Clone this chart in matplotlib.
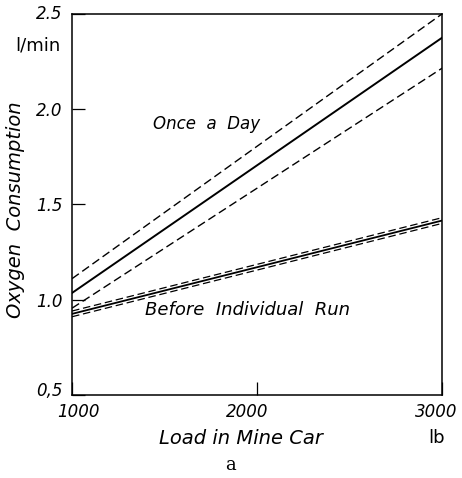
import numpy as np
import matplotlib
matplotlib.use("Agg")
import matplotlib.pyplot as plt
from matplotlib.transforms import ScaledTranslation

plt.rcParams['font.family'] = ['DejaVu Sans']

# load in mine car (lb)
load = [1000, 3000]

# once a day: mean line and the two dashed bounds
day_mid = [1.035, 2.375]
day_hi = [1.11, 2.5]
day_lo = [0.955, 2.215]

# before individual run
run_mid = [0.925, 1.415]
run_hi = [0.94, 1.43]
run_lo = [0.91, 1.40]

xticks = [1000, 2000, 3000]
yticks = [0.5, 1.0, 1.5, 2.0, 2.5]
ytick_labels = ['0,5', '1.0', '1.5', '2.0', '2.5']

fig = plt.figure(figsize=(4.62, 4.78), dpi=100)
ax = fig.add_axes([0.156, 0.174, 0.801, 0.797])

ax.plot(load, day_mid, color='black', lw=1.4)
ax.plot(load, day_hi, color='black', lw=1.0, ls=(0, (6, 3)))
ax.plot(load, day_lo, color='black', lw=1.0, ls=(0, (6, 3)))

ax.plot(load, run_mid, color='black', lw=1.3)
ax.plot(load, run_hi, color='black', lw=0.9, ls=(0, (6, 3)))
ax.plot(load, run_lo, color='black', lw=0.9, ls=(0, (6, 3)))

ax.set_xlim(1000, 3000)
ax.set_ylim(0.5, 2.5)

ax.set_xticks(xticks)
ax.set_xticklabels([str(v) for v in xticks], fontsize=12, style='italic')
ax.set_yticks(yticks)
ax.set_yticklabels(ytick_labels, fontsize=12, style='italic')
ax.tick_params(direction='in', length=9.5, width=0.9)
ax.tick_params(axis='x', pad=6)
ax.tick_params(axis='y', pad=7)

# nudge the end labels like the original
xl = ax.get_xticklabels()
xl[0].set_transform(xl[0].get_transform() + ScaledTranslation(6 / 100, 0, fig.dpi_scale_trans))
xl[1].set_transform(xl[1].get_transform() + ScaledTranslation(-10 / 100, 0, fig.dpi_scale_trans))
xl[2].set_transform(xl[2].get_transform() + ScaledTranslation(-6 / 100, 0, fig.dpi_scale_trans))
yl = ax.get_yticklabels()
yl[0].set_transform(yl[0].get_transform() + ScaledTranslation(0, 6 / 100, fig.dpi_scale_trans))
yl[4].set_transform(yl[4].get_transform() + ScaledTranslation(0, 2 / 100, fig.dpi_scale_trans))

for s in ax.spines.values():
    s.set_linewidth(1.1)

fig.text(241 / 462, 1 - 438 / 478, 'Load in Mine Car', fontsize=14, style='italic',
         ha='center', va='center')
fig.text(16 / 462, 1 - 210 / 478, 'Oxygen  Consumption', fontsize=14, style='italic',
         ha='center', va='center', rotation=90)

ax.text(1437, 1.92, 'Once  a  Day', fontsize=12, style='italic', va='center')
ax.text(1392, 0.945, 'Before  Individual  Run', fontsize=13, style='italic', va='center')

fig.text(38 / 462, 1 - 46 / 478, 'l/min', fontsize=13, ha='center', va='center')
fig.text(437 / 462, 1 - 438 / 478, 'lb', fontsize=13, ha='center', va='center')
fig.text(0.5, 1 - 465 / 478, 'a', fontsize=13, family='DejaVu Serif', ha='center', va='center')

fig.savefig('out.png', dpi=100)
